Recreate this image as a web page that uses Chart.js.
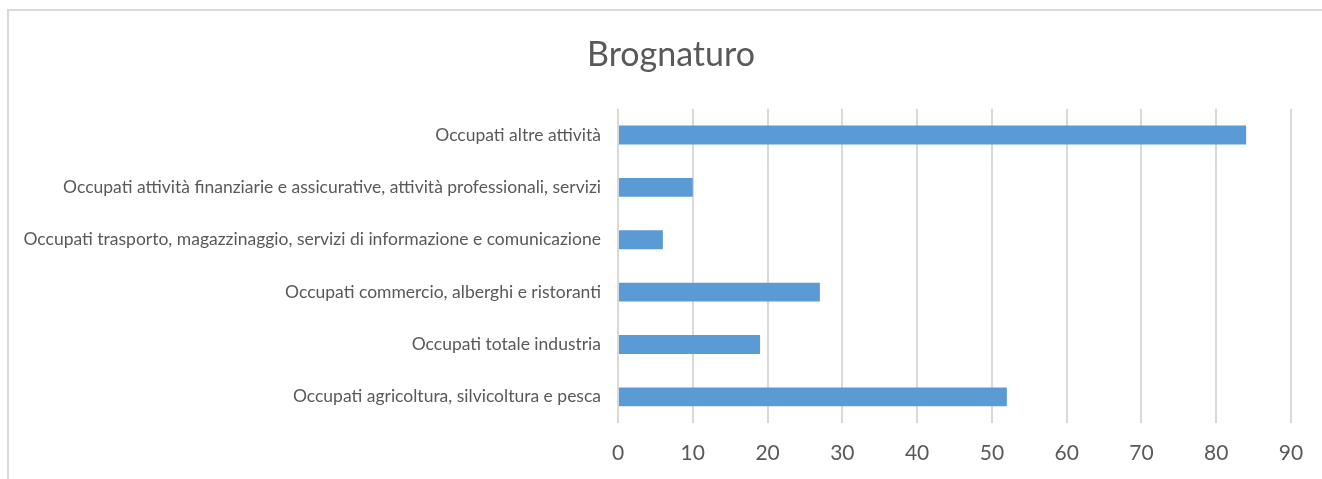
<!DOCTYPE html>
<html>
<head>
<meta charset="utf-8">
<script src="https://cdn.jsdelivr.net/npm/chart.js@4"></script>
<style>
    html, body { margin: 0; padding: 0; background: #fff; }
    #wrap { position: relative; width: 1322px; height: 479px; overflow: hidden; }
    #frame {
        position: absolute; left: 7px; top: 9px; width: 1330px; height: 490px;
        border-top: 2px solid #d9d9d9; border-left: 2px solid #d9d9d9;
    }
    #chart { position: absolute; left: 0; top: 0; }
</style>
</head>
<body>
<div id="wrap">
    <div id="frame"></div>
    <canvas id="chart" width="1322" height="479"></canvas>
</div>
<script>
const chartTitle = 'Brognaturo';
const categories = [
    'Occupati altre attività',
    'Occupati attività finanziarie e assicurative, attività professionali, servizi',
    'Occupati trasporto, magazzinaggio, servizi di informazione e comunicazione',
    'Occupati commercio, alberghi e ristoranti',
    'Occupati totale industria',
    'Occupati agricoltura, silvicoltura e pesca'
];
const occupati = [84, 10, 6, 27, 19, 52];
const xMin = 0;
const xMax = 90;
const xStep = 10;

// plot area edges, matched to the reference
const plotLeft = 618;
const plotBottom = 423;
const padBottom = 12;
const titleCenter = 671;

// the title sits off-centre in the original, nudge its box after layout
const titleShift = {
    id: 'titleShift',
    afterLayout(chart) {
        const t = chart.titleBlock;
        if (!t) return;
        const dx = titleCenter - (t.left + t.right) / 2;
        t.left += dx;
        t.right += dx;
    }
};

const ctx = document.getElementById('chart');

new Chart(ctx, {
    type: 'bar',
    data: {
        labels: categories,
        datasets: [{
            label: chartTitle,
            data: occupati,
            backgroundColor: '#5b9bd5',
            categoryPercentage: 1,
            barPercentage: 0.36
        }]
    },
    options: {
        indexAxis: 'y',
        responsive: false,
        animation: false,
        layout: {
            padding: { top: 35, right: 31, bottom: padBottom, left: 0 }
        },
        scales: {
            x: {
                min: xMin,
                max: xMax,
                border: { display: false },
                grid: {
                    color: '#d9d9d9',
                    lineWidth: 2,
                    drawTicks: false
                },
                ticks: {
                    stepSize: xStep,
                    color: '#595959',
                    padding: 18,
                    font: { family: 'Lato', size: 21 }
                },
                afterFit: (scale) => {
                    scale.height = 479 - padBottom - plotBottom;
                }
            },
            y: {
                border: { display: false },
                grid: { display: false },
                ticks: {
                    color: '#595959',
                    padding: 9,
                    font: { family: 'Lato', size: 17.5 }
                },
                afterFit: (scale) => {
                    scale.width = plotLeft;
                }
            }
        },
        plugins: {
            legend: { display: false },
            tooltip: { enabled: false },
            title: {
                display: true,
                text: chartTitle,
                color: '#595959',
                padding: { top: 0, bottom: 33 },
                font: { family: 'Lato', size: 34, weight: 'normal' }
            }
        }
    },
    plugins: [titleShift]
});
</script>
</body>
</html>
